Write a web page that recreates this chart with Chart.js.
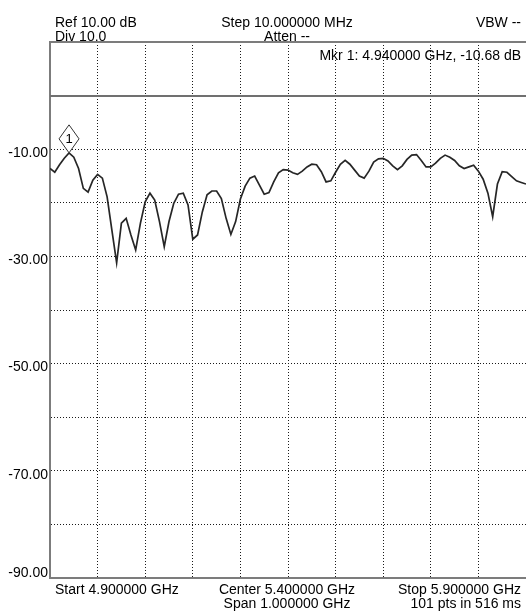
<!DOCTYPE html>
<html>
<head>
<meta charset="utf-8">
<script src="https://cdn.jsdelivr.net/npm/chart.js@4.4.1/dist/chart.umd.min.js"></script>
<style>
  html, body { margin: 0; padding: 0; background: #ffffff; }
  canvas { display: block; }
</style>
</head>
<body>
<canvas id="trace" width="526" height="613"></canvas>
<script>
// Sweep settings (frequencies in MHz)
const START_MHZ = 4900;
const STOP_MHZ = 5900;
const STEP_MHZ = 10;

// Measured level for each of the 101 sweep points, dB
const levelsDb = [
  -13.6, -14.3, -12.9, -11.7, -10.68, -11.5, -13.6, -17.3, -18.0, -15.8,
  -14.7, -15.4, -18.9, -25.1, -31.2, -23.8, -22.9, -26.0, -28.8, -23.8,
  -19.8, -18.2, -19.5, -23.5, -28.2, -23.5, -20.1, -18.4, -18.2, -20.4,
  -26.8, -26.0, -21.7, -18.5, -17.8, -17.8, -19.2, -22.9, -25.9, -23.5,
  -19.3, -16.9, -15.4, -15.0, -16.7, -18.4, -18.1, -16.1, -14.4, -13.8,
  -13.9, -14.4, -14.7, -14.1, -13.3, -12.8, -12.9, -14.2, -16.1, -15.9,
  -14.3, -12.8, -12.1, -12.8, -13.9, -15.0, -15.4, -14.1, -12.4, -11.8,
  -11.7, -12.2, -13.1, -13.8, -13.1, -11.9, -11.1, -11.0, -12.1, -13.3,
  -13.3, -12.6, -11.7, -11.1, -11.5, -12.1, -13.1, -13.6, -13.3, -13.0,
  -14.1, -15.6, -18.2, -22.6, -16.5, -14.2, -14.3, -15.1, -15.9, -16.2,
  -16.5
];

// Frequency of each sweep point
const frequenciesMhz = levelsDb.map((_, i) => START_MHZ + i * STEP_MHZ);

// Reference level and amplitude scale
const REF_LEVEL_DB = 10;
const BOTTOM_DB = -90;
const DIV_DB = 10;
const REF_LINE_DB = 0;

// Labelled amplitude ticks
const yTickLabels = {
  '-10': '-10.00',
  '-30': '-30.00',
  '-50': '-50.00',
  '-70': '-70.00',
  '-90': '-90.00'
};

// Marker 1 sits on this sweep point
const markerIndex = 4;

// Annotation text blocks
const headerLeft = ['Ref 10.00 dB', 'Div 10.0'];
const headerCenter = ['Step 10.000000 MHz', 'Atten --'];
const headerRight = ['VBW --'];
const footerLeft = ['Start 4.900000 GHz'];
const footerCenter = ['Center 5.400000 GHz', 'Span 1.000000 GHz'];
const footerRight = ['Stop 5.900000 GHz', '101 pts in 516 ms'];

const FONT_FAMILY = '"Liberation Sans", Arial, sans-serif';
const TEXT_FONT = '14px ' + FONT_FAMILY;
const FRAME_GREY = '#7c7c7c';

const tracePoints = frequenciesMhz.map((f, i) => ({ x: f, y: levelsDb[i] }));

// Frame lines, annotations and the marker flag
const analyzerDecor = {
  id: 'analyzerDecor',
  beforeDatasetsDraw(chart) {
    const { ctx, chartArea: a, scales: { y } } = chart;
    ctx.save();
    ctx.strokeStyle = FRAME_GREY;
    ctx.lineWidth = 2;
    // top edge at the reference level
    const yTop = y.getPixelForValue(REF_LEVEL_DB);
    ctx.beginPath();
    ctx.moveTo(a.left - 1, yTop);
    ctx.lineTo(a.right, yTop);
    ctx.stroke();
    // solid reference line
    const yRef = Math.round(y.getPixelForValue(REF_LINE_DB));
    ctx.strokeStyle = '#707070';
    ctx.beginPath();
    ctx.moveTo(a.left, yRef);
    ctx.lineTo(a.right, yRef);
    ctx.stroke();
    ctx.restore();
  },
  afterDraw(chart) {
    const { ctx, chartArea: a } = chart;
    const cx = (a.left + a.right) / 2 - 1;
    ctx.save();
    ctx.fillStyle = '#000000';
    ctx.font = TEXT_FONT;
    ctx.textBaseline = 'alphabetic';

    const block = (lines, x, y0, align) => {
      ctx.textAlign = align;
      lines.forEach((t, k) => ctx.fillText(t, x, y0 + k * 14));
    };
    block(headerLeft, 55, 27, 'left');
    block(headerCenter, cx, 27, 'center');
    block(headerRight, 521, 27, 'right');
    block(footerLeft, 55, 594, 'left');
    block(footerCenter, cx, 594, 'center');
    block(footerRight, 521, 594, 'right');

    // marker readout
    const mf = (frequenciesMhz[markerIndex] / 1000).toFixed(6);
    const mv = levelsDb[markerIndex].toFixed(2);
    ctx.textAlign = 'right';
    ctx.fillText('Mkr 1: ' + mf + ' GHz, ' + mv + ' dB', 521, 60);

    // marker flag: diamond standing on the marked point
    const pt = chart.getDatasetMeta(0).data[markerIndex];
    const px = pt.x, py = pt.y;
    const hw = 10, h = 28;
    ctx.beginPath();
    ctx.moveTo(px, py);
    ctx.lineTo(px + hw, py - h / 2);
    ctx.lineTo(px, py - h);
    ctx.lineTo(px - hw, py - h / 2);
    ctx.closePath();
    ctx.fillStyle = '#ffffff';
    ctx.fill();
    ctx.strokeStyle = '#333333';
    ctx.lineWidth = 1;
    ctx.stroke();
    ctx.fillStyle = '#000000';
    ctx.font = '13px ' + FONT_FAMILY;
    ctx.textAlign = 'center';
    ctx.textBaseline = 'middle';
    ctx.fillText('1', px, py - h / 2 + 0.5);
    ctx.restore();
  }
};

new Chart(document.getElementById('trace'), {
  type: 'line',
  data: {
    datasets: [{
      data: tracePoints,
      borderColor: '#262626',
      borderWidth: 1.7,
      pointRadius: 0,
      tension: 0,
      fill: false
    }]
  },
  options: {
    responsive: false,
    animation: false,
    devicePixelRatio: 1,
    layout: { padding: { top: 42, bottom: 35, left: 0, right: 0 } },
    plugins: { legend: { display: false }, tooltip: { enabled: false }, title: { display: false } },
    scales: {
      x: {
        type: 'linear',
        min: START_MHZ,
        max: STOP_MHZ,
        afterFit(scale) { scale.height = 0; },
        ticks: { display: false, stepSize: 100, autoSkip: false },
        grid: {
          drawTicks: false,
          color: (c) => (c.tick && (c.tick.value === START_MHZ || c.tick.value === STOP_MHZ)) ? 'rgba(0,0,0,0)' : '#1a1a1a',
          lineWidth: 1
        },
        border: { display: true, color: FRAME_GREY, width: 2, dash: [1, 2] }
      },
      y: {
        type: 'linear',
        min: BOTTOM_DB,
        max: REF_LEVEL_DB,
        afterFit(scale) { scale.width = 50; },
        ticks: {
          stepSize: DIV_DB,
          autoSkip: false,
          padding: 2,
          labelOffset: 4,
          color: '#000000',
          font: { family: FONT_FAMILY, size: 14 },
          callback: (v) => {
            const t = yTickLabels[String(v)];
            if (!t) return '';
            return v === BOTTOM_DB ? [t, ''] : t;
          }
        },
        grid: {
          drawTicks: false,
          color: (c) => (c.tick && (c.tick.value === REF_LEVEL_DB || c.tick.value === REF_LINE_DB || c.tick.value === BOTTOM_DB)) ? 'rgba(0,0,0,0)' : '#1a1a1a',
          lineWidth: 1
        },
        border: { display: true, color: FRAME_GREY, width: 2, dash: [1, 2] }
      }
    }
  },
  plugins: [analyzerDecor]
});
</script>
</body>
</html>
